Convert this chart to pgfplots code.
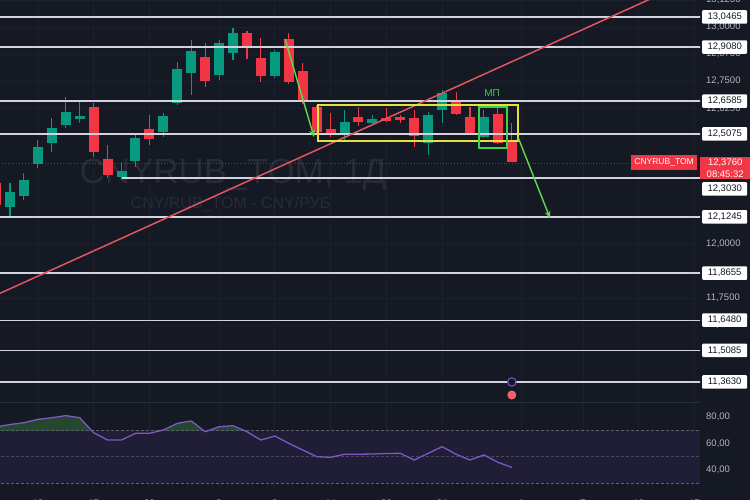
\documentclass[border=0pt]{standalone}
\usepackage{fontspec}
\setmainfont{Liberation Sans}
\usepackage{pgfplots}
\usepackage{pgfplotstable}
\pgfplotsset{compat=1.18}
\usetikzlibrary{arrows.meta}

\definecolor{bg}{HTML}{151924}
\definecolor{cgreen}{HTML}{089981}
\definecolor{cred}{HTML}{F23645}
\definecolor{hline}{HTML}{D1D4DC}
\definecolor{trend}{HTML}{E0555F}
\definecolor{ybox}{HTML}{E8E03A}
\definecolor{gbox}{HTML}{3FCF4A}
\definecolor{arrowg}{HTML}{62DA48}
\definecolor{wm}{HTML}{272B36}
\definecolor{gridc}{HTML}{1C202B}
\definecolor{rsiline}{HTML}{7E57C2}
\definecolor{rsiband}{HTML}{201D37}
\definecolor{rsigreen}{HTML}{26472F}
\definecolor{lbl}{HTML}{B2B5BE}
\definecolor{dashc}{HTML}{5C5E72}
\definecolor{sep}{HTML}{2A2E39}

\pgfplotstableread{
i open high low close
0 12.1701 12.2810 12.1240 12.2393
1 12.2209 12.3270 12.2020 12.2947
2 12.3685 12.4790 12.3500 12.4469
3 12.4653 12.5810 12.4240 12.5345
4 12.5483 12.6775 12.5350 12.6083
5 12.5760 12.6545 12.5576 12.5899
8 12.3085 12.3777 12.2947 12.3362
9 12.3823 12.5115 12.3546 12.4884
11 12.5161 12.6037 12.4930 12.5899
12 12.6498 12.8390 12.6406 12.8067
13 12.7882 12.9404 12.6867 12.8897
15 12.7790 12.9404 12.7559 12.9266
16 12.8804 12.9958 12.8482 12.9727
19 12.7744 12.8943 12.7651 12.8851
24 12.5022 12.6176 12.4792 12.5622
26 12.5576 12.5945 12.5483 12.5760
30 12.4653 12.6083 12.4100 12.5945
31 12.6175 12.7098 12.5576 12.6959
34 12.4930 12.6176 12.4884 12.5852
}\greencandles

\pgfplotstableread{
i open high low close
-1 12.2808 12.3040 12.1560 12.1793
6 12.6314 12.6498 12.4007 12.4238
7 12.3915 12.4561 12.3039 12.3177
10 12.5299 12.5945 12.4561 12.4838
14 12.8620 12.9266 12.7236 12.7513
17 12.9727 12.9820 12.8528 12.9035
18 12.8574 12.9496 12.7467 12.7744
20 12.9450 12.9727 12.7375 12.7467
21 12.7974 12.8343 12.6452 12.6544
22 12.6314 12.6406 12.5022 12.5161
23 12.5299 12.6037 12.4930 12.5069
25 12.5852 12.6314 12.5437 12.5622
27 12.5806 12.6268 12.5622 12.5668
28 12.5852 12.5945 12.5576 12.5737
29 12.5806 12.6176 12.4469 12.4976
32 12.6637 12.7006 12.5945 12.5991
33 12.5852 12.6314 12.5022 12.5115
35 12.5991 12.6268 12.4607 12.4653
36 12.4792 12.5576 12.3760 12.3760
}\redcandles

\pgfplotstableread{
i rsi
-1 72.3
0 74.1
1 75.5
2 78.0
3 79.2
4 80.8
5 79.2
6 68.0
7 62.5
8 62.5
9 67.5
10 67.5
11 70.0
12 75.0
13 76.8
14 68.7
15 72.5
16 73.2
17 68.7
18 62.5
19 65.5
20 60.0
21 55.0
22 50.0
23 49.5
24 51.8
25 51.8
26 52.0
27 52.4
28 52.5
29 47.5
30 52.5
31 57.5
32 51.8
33 47.5
34 51.3
35 45.8
36 42.0
}\rsitable

\pgfplotsset{
  wick/.style={draw=none, mark=none, forget plot,
    error bars/.cd, y dir=both, y explicit,
    error mark=none, error bar style={draw=#1, line width=1.1pt}},
  body/.style={draw=none, mark=none, forget plot,
    error bars/.cd, y dir=both, y explicit,
    error mark=none, error bar style={draw=#1, line width=10pt}},
  hl/.style={hline, line width=1.4pt, mark=none},
}

\begin{document}
\begin{tikzpicture}
\useasboundingbox (0,0) rectangle (750pt,-500pt);
\fill[bg] (0,0) rectangle (750pt,-500pt);
\clip (0,0) rectangle (750pt,-500pt);

% ---------------- price pane ----------------
\begin{axis}[
  at={(0pt,0pt)}, anchor=north west,
  width=700pt, height=402pt, scale only axis,
  xmin=-0.717, xmax=49.5, ymin=11.2707, ymax=13.1249,
  axis line style={draw=none},
  clip mode=individual,
  major tick length=0pt,
  xtick={2,6,10,15,19,23,27,31,36.66,41.1,45.1,49.1},
  xticklabels={},
  ytick={11.625,11.75,12.0,12.625,12.75,12.875,13.0,13.125},
  yticklabels={{11,6250},{11,7500},{12,0000},{12,6250},{12,7500},{12,8750},{13,0000},{13,1250}},
  yticklabel pos=right,
  grid=major, grid style={gridc, line width=0.7pt},
  yticklabel style={anchor=west, text=lbl, font=\fontsize{9.5}{11}\selectfont, xshift=5pt, inner sep=1pt},
  extra y ticks={11.363,11.5085,11.648,11.8655,12.1245,12.2532,12.5075,12.6585,12.908,13.0465},
  extra y tick labels={{11,3630},{11,5085},{11,6480},{11,8655},{12,1245},{12,3030},{12,5075},{12,6585},{12,9080},{13,0465}},
  extra y tick style={grid=none, yticklabel style={fill=white, text=bg, minimum width=45pt, minimum height=13.5pt, inner sep=1pt, xshift=-3pt, rounded corners=1pt}},
]
% watermark
\node[text=wm, anchor=base, font=\fontsize{35}{40}\selectfont] at (axis cs:16.0,12.2808) {CNYRUB\_TOM, 1Д};
\node[text=wm, anchor=base, font=\fontsize{16}{18}\selectfont] at (axis cs:15.82,12.1655) {CNY/RUB\_TOM - CNY/РУБ};

% current price dotted line
\addplot[cred!55!bg, dotted, line width=0.9pt, mark=none] coordinates {(-1,12.373) (50,12.373)};

% candles
\addplot[wick=cgreen] table[x=i, y expr={(\thisrow{high}+\thisrow{low})/2}, y error expr={(\thisrow{high}-\thisrow{low})/2}] {\greencandles};
\addplot[wick=cred] table[x=i, y expr={(\thisrow{high}+\thisrow{low})/2}, y error expr={(\thisrow{high}-\thisrow{low})/2}] {\redcandles};
\addplot[body=cgreen] table[x=i, y expr={(\thisrow{open}+\thisrow{close})/2}, y error expr={max(abs(\thisrow{close}-\thisrow{open})/2,0.0015)}] {\greencandles};
\addplot[body=cred] table[x=i, y expr={(\thisrow{open}+\thisrow{close})/2}, y error expr={max(abs(\thisrow{close}-\thisrow{open})/2,0.0015)}] {\redcandles};

% horizontal levels
\addplot[hl] coordinates {(-1,13.0465) (50,13.0465)};
\addplot[hl] coordinates {(-1,12.9080) (50,12.9080)};
\addplot[hl] coordinates {(-1,12.6585) (50,12.6585)};
\addplot[hl] coordinates {(-1,12.5075) (50,12.5075)};
\addplot[hl] coordinates {(8.03,12.3030) (50,12.3030)};
\addplot[hl] coordinates {(-1,12.1245) (50,12.1245)};
\addplot[hl] coordinates {(-1,11.8655) (50,11.8655)};
\addplot[hl] coordinates {(-1,11.6480) (50,11.6480)};
\addplot[hl] coordinates {(-1,11.5085) (50,11.5085)};
\addplot[hl] coordinates {(-1,11.3630) (50,11.3630)};

% trend line
\addplot[trend, line width=1.5pt, mark=none] coordinates {(-1,11.7638) (50,13.2479)};

% boxes
\addplot[ybox, line width=2pt, line cap=rect, mark=none] coordinates {(22.09,12.4746) (36.44,12.4746) (36.44,12.6406) (22.09,12.6406) (22.09,12.4746)};
\addplot[gbox, line width=1.8pt, line cap=rect, mark=none] coordinates {(33.64,12.4423) (35.65,12.4423) (35.65,12.6314) (33.64,12.6314) (33.64,12.4423)};

% arrows
\addplot[arrowg, line width=1.4pt, mark=none, -{Stealth[length=7pt,width=6pt]}] coordinates {(19.73,12.945) (21.81,12.493)};
\addplot[arrowg, line width=1.4pt, mark=none, -{Stealth[length=7pt,width=6pt]}] coordinates {(36.44,12.493) (38.74,12.1194)};

% events
\addplot[only marks, mark=*, mark size=4.2pt, mark options={draw=rsiline, fill=bg, line width=1pt}] coordinates {(36,11.363)};
\addplot[only marks, mark=*, mark size=4.2pt, mark options={draw=cred!70!white, fill=cred!80!white}] coordinates {(36,11.303)};

\node[text=gbox, font=\fontsize{10}{12}\selectfont] at (axis cs:34.58,12.6937) {МП};

% price labels
\node[fill=cred, text=white, anchor=east, font=\fontsize{8.5}{10}\selectfont, inner xsep=3pt, minimum height=14pt] at (axis cs:49.28,12.376) {CNYRUB\_TOM};
\node[fill=cred, text=white, anchor=west, font=\fontsize{9.5}{11}\selectfont, inner sep=1.5pt, minimum width=50pt, align=center, yshift=-5.5pt] at (axis cs:49.5,12.376) {12,3760\\[1pt]08:45:32};
\end{axis}

% ---------------- RSI pane ----------------
\begin{axis}[
  at={(0pt,-402pt)}, anchor=north west,
  width=700pt, height=88pt, scale only axis,
  xmin=-0.717, xmax=49.5, ymin=25, ymax=91,
  axis line style={draw=none},
  clip mode=individual,
  major tick length=0pt,
  xtick={2,6,10,15,19,23,27,31,36.66,41.1,45.1,49.1},
  xticklabels={13,17,23,2,8,14,20,24,1,7,13,17},
  xticklabel style={text=lbl, font=\fontsize{9.5}{11}\selectfont, yshift=-6pt},
  xmajorgrids=true, grid style={gridc, line width=0.7pt},
  ytick={40,60,80},
  yticklabels={{40,00},{60,00},{80,00}},
  yticklabel pos=right,
  yticklabel style={anchor=west, text=lbl, font=\fontsize{9.5}{11}\selectfont, xshift=5pt, inner sep=1pt},
]
\addplot[fill=rsiband, draw=none, mark=none] coordinates {(-1,30) (49.5,30) (49.5,70) (-1,70)};
\begin{scope}
\clip (axis cs:-1,70) rectangle (axis cs:50,95);
\addplot[fill=rsigreen, draw=none, mark=none] table[x=i, y=rsi] {\rsitable} \closedcycle;
\end{scope}
\addplot[dashc, dash pattern=on 2.5pt off 2.5pt, line width=0.8pt, mark=none] coordinates {(-1,70) (49.5,70)};
\addplot[dashc!70!bg, dash pattern=on 2.5pt off 2.5pt, line width=0.8pt, mark=none] coordinates {(-1,50) (49.5,50)};
\addplot[dashc, dash pattern=on 2.5pt off 2.5pt, line width=0.8pt, mark=none] coordinates {(-1,30) (49.5,30)};
\addplot[sep, line width=1pt, mark=none] coordinates {(-1,90.9) (50,90.9)};
\addplot[rsiline, line width=1.3pt, mark=none] table[x=i, y=rsi] {\rsitable};
\end{axis}
\end{tikzpicture}
\end{document}
